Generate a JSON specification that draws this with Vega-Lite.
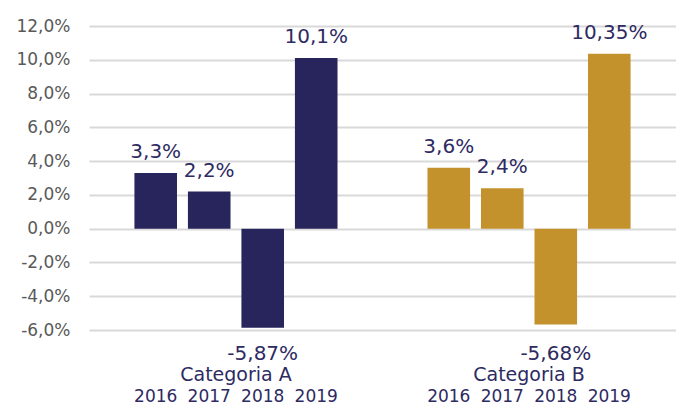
{
  "$schema": "https://vega.github.io/schema/vega-lite/v6.json",
  "width": 587,
  "height": 304,
  "autosize": {"type": "none"},
  "padding": {"left": 89, "top": 26, "right": 0, "bottom": 77},
  "config": {"view": {"stroke": null}, "font": "DejaVu Sans"},
  "data": {
    "values": [
      {"categoria": "Categoria A", "ano": "2016", "valor": 3.3},
      {"categoria": "Categoria A", "ano": "2017", "valor": 2.2},
      {"categoria": "Categoria A", "ano": "2018", "valor": -5.87},
      {"categoria": "Categoria A", "ano": "2019", "valor": 10.1},
      {"categoria": "Categoria B", "ano": "2016", "valor": 3.6},
      {"categoria": "Categoria B", "ano": "2017", "valor": 2.4},
      {"categoria": "Categoria B", "ano": "2018", "valor": -5.68},
      {"categoria": "Categoria B", "ano": "2019", "valor": 10.35}
    ]
  },
  "transform": [
    {"calculate": "replace(toString(datum.valor), '.', ',') + '%'", "as": "rotulo"}
  ],
  "encoding": {
    "x": {
      "field": "categoria",
      "type": "nominal",
      "scale": {"paddingInner": 0.307, "paddingOuter": 0.155},
      "axis": {
        "title": null,
        "domain": false,
        "ticks": false,
        "labelFontSize": 19,
        "labelColor": "#2e2a62",
        "labelPadding": 35,
        "labelAngle": 0
      }
    },
    "xOffset": {
      "field": "ano",
      "type": "nominal",
      "scale": {"paddingInner": 0.204, "paddingOuter": 0}
    }
  },
  "layer": [
    {
      "mark": {"type": "bar"},
      "encoding": {
        "y": {
          "field": "valor",
          "type": "quantitative",
          "scale": {"domain": [-6, 12], "nice": false, "zero": true},
          "axis": {
            "title": null,
            "values": [-6, -4, -2, 0, 2, 4, 6, 8, 10, 12],
            "tickCount": 20,
            "domain": false,
            "ticks": false,
            "labelOverlap": false,
            "labelPadding": 19,
            "labelFontSize": 17,
            "labelColor": "#595959",
            "gridColor": "#d9d9d9",
            "gridWidth": 2,
            "labelExpr": "replace(replace(format(datum.value / 100, '.1%'), '.', ','), '\u2212', '-')"
          }
        },
        "color": {
          "field": "categoria",
          "type": "nominal",
          "scale": {"range": ["#28245c", "#c4922c"]},
          "legend": null
        }
      }
    },
    {
      "transform": [{"filter": "datum.valor >= 0"}],
      "mark": {"type": "text", "dy": -15, "baseline": "alphabetic", "fontSize": 20, "color": "#2e2a62"},
      "encoding": {
        "y": {"field": "valor", "type": "quantitative"},
        "text": {"field": "rotulo"}
      }
    },
    {
      "transform": [{"filter": "datum.valor < 0"}],
      "mark": {"type": "text", "dy": 30, "baseline": "alphabetic", "fontSize": 20, "color": "#2e2a62"},
      "encoding": {
        "y": {"datum": -6},
        "text": {"field": "rotulo"}
      }
    },
    {
      "mark": {"type": "text", "dy": 72, "baseline": "alphabetic", "fontSize": 17, "color": "#2e2a62"},
      "encoding": {
        "y": {"datum": -6},
        "text": {"field": "ano"}
      }
    }
  ]
}
